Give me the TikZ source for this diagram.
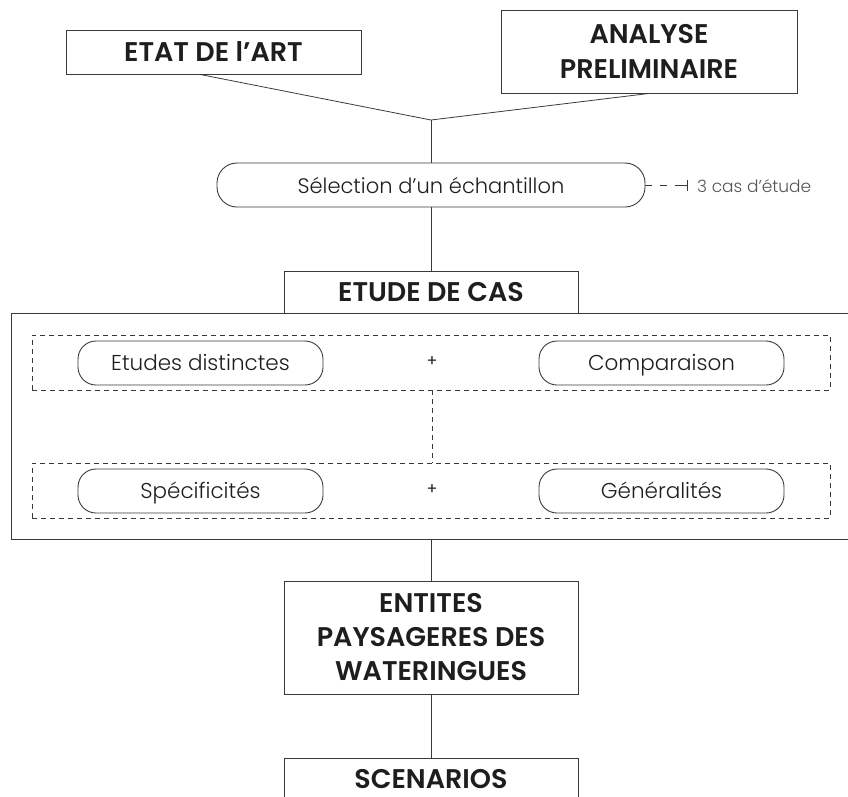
\documentclass[tikz,border=0pt]{standalone}
\usepackage{fontspec}
\setmainfont{Poppins}
\newfontfamily\lightfont{Poppins Light}
\newfontfamily\titlefont{Poppins SemiBold}
\usetikzlibrary{calc}

\definecolor{ink}{HTML}{1E1E1E}
\definecolor{rule}{HTML}{3A3A3A}
\definecolor{note}{HTML}{555555}

\tikzset{
  titlebox/.style={draw=rule, line width=0.9pt, fill=white, text=ink, inner sep=0pt,
    align=center, font=\titlefont\fontsize{27}{35}\selectfont},
  titletext/.style={inner sep=0pt, text=ink, font=\titlefont\fontsize{27}{35}\selectfont},
  pill/.style={draw=rule, line width=0.9pt, rounded corners=18pt, inner sep=0pt,
    minimum width=245pt, minimum height=44pt, text=ink, text height=18pt, text depth=4pt,
    font=\lightfont\fontsize{21.5}{24}\selectfont},
  group/.style={draw=rule, line width=0.8pt, dash pattern=on 5pt off 4pt, inner sep=0pt,
    minimum width=798pt, minimum height=55pt},
  link/.style={draw=rule, line width=0.8pt},
  dlink/.style={draw=rule, line width=0.8pt, dash pattern=on 5pt off 4pt},
  notelink/.style={draw=rule, line width=0.8pt, dash pattern=on 7pt off 8pt},
  plus/.style={inner sep=0pt, text=ink, font=\fontsize{16}{18}\selectfont},
}

\begin{document}
\begin{tikzpicture}[x=1pt, y=-1pt]
\useasboundingbox (0,0) rectangle (848,796);

% top inputs
\node[titlebox, minimum width=295pt, minimum height=44pt] (etat) at (213.5,52) {ETAT DE l’ART};
\node[titlebox, minimum width=296pt, minimum height=83pt] (analyse) at (649,51.5) {ANALYSE\\PRELIMINAIRE};
\coordinate (join) at (431,120);

% sample selection
\node[draw=rule, line width=0.9pt, rounded corners=20pt, inner sep=0pt,
      minimum width=428pt, minimum height=44pt, text=ink, text height=19pt, text depth=3pt,
      font=\lightfont\fontsize{21}{24}\selectfont] (selection) at (431,185) {Sélection d’un échantillon};
\coordinate (tick) at (687,185);
\coordinate (tickstart) at (676,185);
\node[anchor=west, inner sep=0pt, text=note, font=\lightfont\fontsize{17}{20}\selectfont]
  (cas) at (697,186) {3 cas d’étude};

% case study frame
\node[draw=rule, line width=0.9pt, inner sep=0pt, minimum width=841pt, minimum height=226pt]
  (cadre) at (431.5,426) {};
\node[titlebox, minimum width=294pt, minimum height=42pt] (etude) at (431,292) {ETUDE DE CAS};

\node[group] (g1) at (431,362.5) {};
\node[pill] (distinctes) at (200.5,363) {Etudes distinctes};
\node[pill] (comparaison) at (661.5,363) {Comparaison};
\node[plus] (plus1) at (432,362) {+};

\node[group] (g2) at (431,490.5) {};
\node[pill] (specif) at (200.5,491) {Spécificités};
\node[pill] (general) at (661.5,491) {Généralités};
\node[plus] (plus2) at (432,490) {+};

% outputs
\node[titlebox, minimum width=294pt, minimum height=113pt, font=\titlefont\fontsize{27}{34}\selectfont]
  (entites) at (431,637.5) {ENTITES\\PAYSAGERES DES\\WATERINGUES};

% last box runs past the lower edge
\coordinate (scentop) at (431,758);
\draw[link, line width=0.9pt] (284,800) |- (578,758) -- (578,800);
\node[titletext, anchor=base] (scenarios) at (431,788) {SCENARIOS};

% connectors
\draw[link] (etat.south) ++(-13.5,0) -- (join);
\draw[link] (analyse.south) -- (join);
\draw[link] (join) -- (selection.north -| join);
\draw[link] (selection.south -| join) -- (etude.north -| join);
\draw[notelink] (selection.east) -- (tickstart);
\draw[link] (tickstart) -- (tick);
\draw[link] ($(tick)+(0,-5.5)$) -- ($(tick)+(0,5.5)$);
\draw[dlink] (g1.south -| plus1) -- (g2.north -| plus1);
\draw[link] (cadre.south -| entites) -- (entites.north);
\draw[link] (entites.south) -- (scentop);
\end{tikzpicture}
\end{document}
